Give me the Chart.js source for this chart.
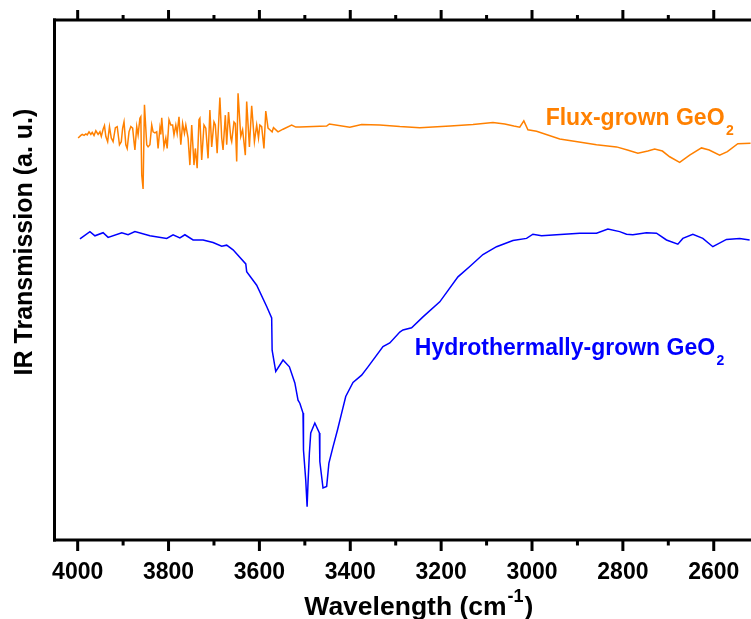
<!DOCTYPE html>
<html><head><meta charset="utf-8">
<script src="https://cdn.jsdelivr.net/npm/chart.js@4"></script>
<style>html,body{margin:0;padding:0;background:#fff;overflow:hidden}canvas{display:block}</style>
</head><body>
<canvas id="c" width="751" height="619"></canvas>
<script>
// ---- data (wavenumber in cm^-1, transmission in arbitrary units) ----
const fluxWavenumber = [3999,3993,3990,3986,3982,3979,3975,3971,3968,3964,
 3960,3955,3951,3948,3944,3941,3938,3934,3930,3926,
 3922,3917,3913,3908,3904,3901,3898,3894,3891,3887,
 3883,3879,3876,3874,3870,3867,3863,3861,3859,3856,
 3853,3848,3845,3841,3837,3834,3830,3826,3823,3819,
 3817,3815,3810,3806,3803,3799,3795,3791,3788,3784,
 3781,3777,3773,3769,3765,3762,3757,3753,3749,3744,
 3741,3737,3733,3731,3727,3722,3718,3713,3709,3705,
 3700,3697,3693,3687,3683,3680,3675,3672,3668,3663,
 3661,3656,3653,3650,3647,3641,3637,3631,3628,3622,
 3617,3611,3606,3602,3599,3595,3590,3586,3581,3577,
 3572,3569,3559,3548,3529,3520,3511,3452,3446,3401,
 3375,3335,3291,3247,3180,3130,3086,3060,3040,3027,
 3018,3009,2990,2939,2900,2858,2814,2790,2767,2745,
 2730,2713,2697,2675,2653,2627,2610,2587,2570,2547,2519];
const fluxSignal = [77.3,77.8,78.0,77.8,78.1,77.9,78.5,78.0,78.4,77.8,
 78.7,78.0,78.5,77.6,79.0,79.7,77.6,76.6,79.5,77.3,
 76.6,79.3,79.5,76.0,76.6,79.2,80.4,76.0,75.3,78.5,
 79.5,79.2,76.6,75.0,79.5,77.9,81.1,81.4,70.2,67.5,
 83.7,76.0,75.6,76.0,79.8,78.5,78.3,78.5,75.3,79.2,
 78.0,81.2,75.6,77.3,75.3,80.8,79.8,79.8,77.9,79.8,
 78.2,81.4,76.0,80.1,78.2,79.8,77.3,72.1,79.8,72.1,
 75.3,71.5,80.8,81.1,73.1,79.8,79.2,73.4,82.7,75.6,
 80.4,79.8,74.4,85.1,77.3,75.0,81.7,76.0,82.3,77.3,
 76.6,80.4,80.1,72.8,85.9,77.6,78.9,74.0,84.3,75.6,
 83.5,76.6,79.8,77.3,79.8,79.5,75.3,82.5,79.2,78.9,
 78.5,79.3,78.5,79.0,79.8,79.4,79.4,79.6,80.0,79.4,
 79.9,79.8,79.5,79.3,79.6,79.9,80.3,80.0,79.6,79.4,
 80.6,78.9,78.6,77.1,76.6,76.0,75.6,75.0,74.4,74.8,
 75.2,74.8,73.7,72.6,74.0,75.4,75.0,74.0,74.7,76.2,76.3];

const hydroWavenumber = [3995,3973,3962,3944,3933,3903,3889,3874,3841,3804,
 3790,3775,3764,3746,3724,3702,3683,3672,3658,3630,
 3628,3606,3584,3573,3572,3564,3548,3534,3522,3515,
 3511,3504,3503,3498,3495,3493,3490,3487,3478,3468,
 3467,3460,3452,3447,3438,3428,3419,3410,3394,3375,
 3361,3328,3313,3291,3284,3265,3240,3203,3163,3137,
 3108,3078,3042,3012,2998,2979,2946,2895,2858,2833,
 2807,2792,2778,2748,2726,2704,2679,2668,2646,2624,
 2602,2572,2543,2521];
const hydroSignal = [57.9,59.3,58.5,59.1,58.2,59.1,58.7,59.3,58.5,58.0,
 58.7,58.1,58.7,57.7,57.7,57.2,56.5,56.7,55.8,53.1,
 51.6,49.0,44.9,42.7,36.5,32.4,34.6,33.3,30.2,26.9,
 26.3,24.4,17.3,11.5,6.4,11.0,16.7,20.6,22.5,20.6,
 15.1,10.0,10.3,14.8,17.9,21.2,24.4,27.6,30.3,31.7,
 33.3,37.2,37.9,40.0,40.4,40.8,42.9,45.8,50.6,52.6,
 54.9,56.4,57.6,58.0,58.8,58.5,58.7,59.0,59.0,59.8,
 59.3,58.8,58.7,59.1,59.0,57.7,56.9,58.0,58.8,58.0,
 56.4,57.8,58.0,57.7];

const majorTicks = [4000,3800,3600,3400,3200,3000,2800,2600];
const minorTicks = [3900,3700,3500,3300,3100,2900,2700];
const xRange = {min: 2518, max: 4051};
const yRange = {min: 0, max: 100};

const xTitleMain = 'Wavelength (cm', xTitleSup = '-1', xTitleEnd = ')';
const yTitle = 'IR Transmission (a. u.)';
const fluxLabel = 'Flux-grown GeO', hydroLabel = 'Hydrothermally-grown GeO', subscript = '2';
const fluxLabelAt = {x: 2970, y: 79.8};
const hydroLabelAt = {x: 3258, y: 35.6};
const xTitleCenter = 3249, yTitleCenter = 57.3;

const ORANGE = '#FF8000', BLUE = '#0000FF';
const FONT = '"Liberation Sans", Arial, Helvetica, sans-serif';

function pts(xs, ys){ return xs.map((v,i)=>({x:v, y:ys[i]})); }

const decor = {
  id: 'decor',
  afterDraw(chart){
    const {ctx, chartArea:a, scales:{x, y}} = chart;
    ctx.save();
    ctx.strokeStyle = '#000'; ctx.lineWidth = 3; ctx.lineCap = 'butt';
    const seg = (x1,y1,x2,y2)=>{ctx.beginPath();ctx.moveTo(x1,y1);ctx.lineTo(x2,y2);ctx.stroke();};
    // frame (left, top, bottom)
    seg(a.left, a.bottom+1.5, a.left, a.top-1.5);
    seg(a.left-1.5, a.top, a.right, a.top);
    seg(a.left-1.5, a.bottom, a.right, a.bottom);
    // ticks
    majorTicks.forEach(v=>{const p=x.getPixelForValue(v); seg(p,a.bottom,p,a.bottom+11); seg(p,a.top,p,a.top-10);});
    minorTicks.forEach(v=>{const p=x.getPixelForValue(v); seg(p,a.bottom,p,a.bottom+5.5); seg(p,a.top,p,a.top-5);});
    // series labels with subscript
    const lab = (txt, at, color)=>{
      const px = x.getPixelForValue(at.x), py = y.getPixelForValue(at.y);
      ctx.fillStyle = color; ctx.textAlign='left'; ctx.textBaseline='alphabetic';
      ctx.font = `bold 23px ${FONT}`; ctx.fillText(txt, px, py);
      const w = ctx.measureText(txt).width;
      ctx.font = `bold 14px ${FONT}`; ctx.fillText(subscript, px+w+1.5, py+10);
    };
    lab(fluxLabel, fluxLabelAt, ORANGE);
    lab(hydroLabel, hydroLabelAt, BLUE);
    // x title with superscript
    ctx.fillStyle = '#000'; ctx.textBaseline='alphabetic'; ctx.textAlign='left';
    ctx.font = `bold 26.5px ${FONT}`;
    const w1 = ctx.measureText(xTitleMain).width, w3 = ctx.measureText(xTitleEnd).width;
    ctx.font = `bold 18px ${FONT}`;
    const w2 = ctx.measureText(xTitleSup).width;
    const cx = x.getPixelForValue(xTitleCenter);
    let sx = cx - (w1+w2+w3+2)/2;
    const base = a.bottom + 75;
    ctx.font = `bold 26.5px ${FONT}`; ctx.fillText(xTitleMain, sx, base);
    ctx.font = `bold 18px ${FONT}`; ctx.fillText(xTitleSup, sx+w1+1, base-13);
    ctx.font = `bold 26.5px ${FONT}`; ctx.fillText(xTitleEnd, sx+w1+w2+2, base);
    // y title
    ctx.save();
    ctx.translate(25, y.getPixelForValue(yTitleCenter));
    ctx.rotate(-Math.PI/2);
    ctx.textAlign='center'; ctx.textBaseline='middle';
    ctx.font = `bold 25px ${FONT}`;
    ctx.fillText(yTitle, 0, 0);
    ctx.restore();
    ctx.restore();
  }
};

new Chart(document.getElementById('c'), {
  type: 'line',
  data: { datasets: [
    {label:'Flux-grown', data: pts(fluxWavenumber, fluxSignal), borderColor: ORANGE, borderWidth: 1.5, pointRadius: 0, tension: 0, fill:false},
    {label:'Hydrothermally-grown', data: pts(hydroWavenumber, hydroSignal), borderColor: BLUE, borderWidth: 1.5, pointRadius: 0, tension: 0, fill:false}
  ]},
  options: {
    responsive: false, animation: false, devicePixelRatio: 1,
    layout: {padding: {left: 54.5, top: 20, right: 0, bottom: 0}},
    plugins: {legend:{display:false}, tooltip:{enabled:false}, title:{display:false}},
    scales: {
      x: {
        type: 'linear', reverse: true, min: xRange.min, max: xRange.max,
        grid: {display: false, drawTicks: false},
        border: {display: false},
        afterBuildTicks: s => { s.ticks = majorTicks.map(v=>({value:v})); },
        afterFit: s => { s.height = 79; s.paddingLeft = 0; s.paddingRight = 0; },
        ticks: {autoSkip:false, maxRotation:0, padding: 19, color:'#000',
          font: {family: FONT, size: 23, weight: 'bold'},
          callback: v => String(v)}
      },
      y: { display: false, min: yRange.min, max: yRange.max }
    }
  },
  plugins: [decor]
});
</script>
</body></html>
